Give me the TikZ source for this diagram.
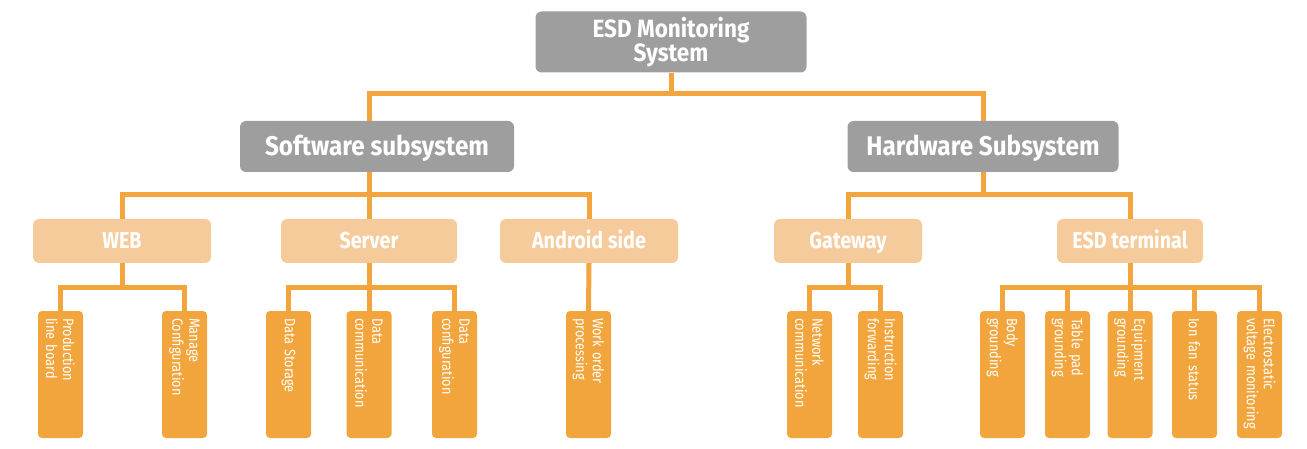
\documentclass[tikz,border=0pt]{standalone}
\usepackage{fontspec}
\setmainfont{Fira Sans}
\newfontfamily\headfont{Fira Sans}[FakeStretch=0.9]
\newfontfamily\partfont{Fira Sans}[FakeStretch=0.86]
\newfontfamily\leaffont{Fira Sans}[FakeStretch=0.85]
\usetikzlibrary {positioning}
\definecolor{boxgray}{HTML}{9E9E9E}
\definecolor{esdorange}{HTML}{F2A53C}
\definecolor{esdlight}{HTML}{F6CB9C}
\hyphenpenalty=10000

\begin{document}
\begin{tikzpicture}[x=1pt, y=-1pt,
    title/.style={fill=boxgray, rounded corners=6pt, text=white, align=center,
      font=\headfont\bfseries\fontsize{25}{20}\selectfont, inner sep=0pt},
    sub/.style={fill=boxgray, rounded corners=6pt, text=white,
      minimum height=51pt, text height=24.6pt, text depth=6pt,
      font=\headfont\bfseries\fontsize{27}{30}\selectfont},
    part/.style={fill=esdlight, rounded corners=6pt, text=white,
      minimum height=44pt, text height=20.9pt, text depth=5pt,
      font=\partfont\bfseries\fontsize{23}{25}\selectfont},
    leaf/.style={fill=esdorange, rounded corners=4pt, text=white, rotate=-90,
      minimum width=125pt, minimum height=45pt, inner xsep=7pt, inner ysep=0pt,
      text width=113pt, align=left,
      font=\leaffont\fontsize{15}{17}\selectfont},
    link/.style={draw=esdorange, line width=5pt}]
  \useasboundingbox (0,0) rectangle (1307,449);

  % top levels
  \node[title, minimum width=271pt, minimum height=61pt] (root) at (671,42) {ESD Monitoring\\System};
  \node[sub, minimum width=274pt] (soft) at (377,146.5) {Software subsystem};
  \node[sub, minimum width=271pt] (hard) at (983,146.5) {Hardware Subsystem};

  \node[part, minimum width=178pt] (web) at (122,241) {WEB};
  \node[part, minimum width=176pt] (srv) at (369,241) {Server};
  \node[part, minimum width=178pt] (andr) at (589,241) {Android side};
  \node[part, minimum width=148pt] (gw) at (848,241) {Gateway};
  \node[part, minimum width=146pt] (term) at (1130,241) {ESD terminal};

  % leaves
  \begin{scope}[every node/.style={leaf}]
    \node (prod) at (60.5,374.5) {Production\\line board};
    \node (mng) at (184.5,374.5) {Manage\\Configuration};
    \node (stor) at (288.5,374.5) {Data Storage};
    \node (comm) at (369,374.5) {Data\\communication};
    \node (conf) at (454.5,374.5) {Data\\configuration};
    \node (work) at (588.5,374.5) {Work order\\processing};
    \node (net) at (809.5,374.5) {Network\\communication};
    \node (instr) at (880.5,374.5) {Instruction\\forwarding};
    \node (body) at (1002.5,374.5) {Body\\grounding};
    \node (table) at (1067.5,374.5) {Table pad\\grounding};
    \node (equip) at (1130,374.5) {Equipment\\grounding};
    \node (ion) at (1194.5,374.5) {Ion fan status};
    \node (elec) at (1259.5,374.5) {Electrostatic\\voltage monitoring};
  \end{scope}

  % connectors
  \draw[link] (root.south) -- ++(0,21) coordinate (r1);
  \draw[link] (r1) -| (soft.north -| srv.north);
  \draw[link] (r1) -| (hard.north);

  \draw[link] (soft.south -| srv.north) -- (srv.north);
  \path (soft.south -| srv.north) ++(0,22) coordinate (s1);
  \draw[link] (s1) -| (web.north);
  \draw[link] (s1) -| (andr.north);
  \draw[link] (hard.south) -- ++(0,22) coordinate (h1);
  \draw[link] (h1) -| (gw.north);
  \draw[link] (h1) -| (term.north);

  \draw[link] (web.south) -- ++(0,24) coordinate (w1);
  \draw[link] (w1) -| (prod.west);
  \draw[link] (w1) -| (mng.west);
  \draw[link] (srv.south) -- (comm.west);
  \path (srv.south) ++(0,24) coordinate (v1);
  \draw[link] (v1) -| (stor.west);
  \draw[link] (v1) -| (conf.west);
  \draw[link] (andr.south) -- (work.west);
  \draw[link] (gw.south) -- ++(0,24) coordinate (g1);
  \draw[link] (g1) -| (net.west);
  \draw[link] (g1) -| (instr.west);
  \draw[link] (term.south) -- (equip.west);
  \path (term.south) ++(0,24) coordinate (t1);
  \foreach \leafname in {body,table,ion,elec}
    \draw[link] (t1) -| (\leafname.west);
\end{tikzpicture}
\end{document}
